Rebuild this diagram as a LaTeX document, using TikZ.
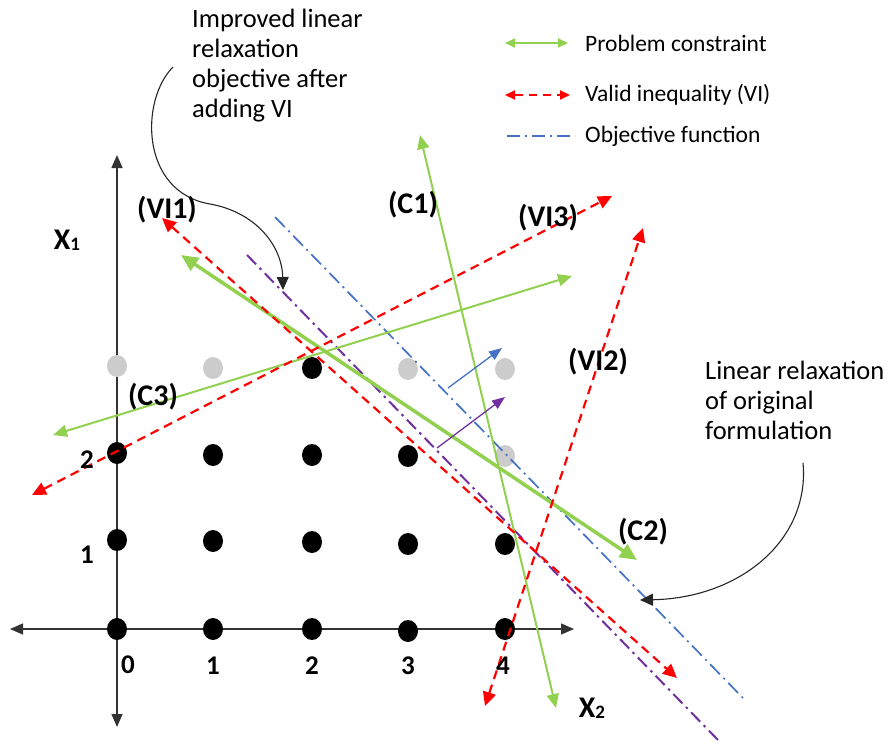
\documentclass[tikz,border=0pt]{standalone}
\usepackage{fontspec}
\setmainfont{Carlito}
\usetikzlibrary{arrows.meta,shapes.geometric}
\definecolor{cgreen}{RGB}{146,208,80}
\definecolor{cred}{RGB}{255,0,0}
\definecolor{cblue}{RGB}{68,114,196}
\definecolor{cpurple}{RGB}{112,48,160}
\definecolor{cgray}{RGB}{204,204,204}
\tikzset{
  axtip/.tip={Triangle[length=13pt,width=11pt]},
  gtip/.tip={Triangle[length=14pt,width=12pt]},
  gbtip/.tip={Triangle[length=17pt,width=15pt]},
  rtip/.tip={Triangle[length=14pt,width=13pt]},
  stip/.tip={Triangle[length=13pt,width=10pt]},
  ctip/.tip={Triangle[length=13pt,width=12pt]},
  ltip/.tip={Triangle[length=10pt,width=9pt]},
  axisline/.style={draw=black!80, line width=1.4pt, axtip-axtip},
  bdot/.style={ellipse, fill=black, minimum width=20pt, minimum height=22pt, inner sep=0pt},
  gdot/.style={ellipse, fill=cgray, minimum width=20pt, minimum height=22pt, inner sep=0pt},
  gline/.style={draw=cgreen, line width=2pt, gtip-gtip},
  gthick/.style={draw=cgreen, line width=3.5pt, gbtip-gbtip},
  rline/.style={draw=cred, line width=2.2pt, dash pattern=on 9pt off 6pt, rtip-rtip},
  bline/.style={draw=cblue, line width=1.7pt, dash pattern=on 14pt off 5pt on 2pt off 5pt},
  pline/.style={draw=cpurple, line width=2pt, dash pattern=on 13pt off 5pt on 2.5pt off 5pt},
  barrow/.style={draw=cblue, line width=1.3pt, -stip},
  parrow/.style={draw=cpurple, line width=1.3pt, -stip},
  callout/.style={draw=black!85, line width=1.1pt, -ctip},
  lab/.style={font=\fontsize{30}{32}\selectfont\bfseries, inner sep=0pt},
  num/.style={font=\fontsize{27}{29}\selectfont\bfseries, inner sep=0pt},
  ann/.style={font=\fontsize{26.5}{30}\selectfont, align=left, inner sep=0pt, anchor=north west},
  leg/.style={font=\fontsize{23.5}{26}\selectfont, anchor=west, inner sep=0pt},
}
\begin{document}
\begin{tikzpicture}[x=1pt,y=-1pt]
\useasboundingbox (0,0) rectangle (890,744);
% coordinates
\coordinate (xl) at (10,629);
\coordinate (xr) at (574,629);
\coordinate (yt) at (117,155);
\coordinate (yb) at (117,727);
\coordinate (c1a) at (420,135);
\coordinate (c1b) at (556,708);
\coordinate (c2a) at (181,255);
\coordinate (c2b) at (637,560);
\coordinate (c3a) at (53,435);
\coordinate (c3b) at (572,276);
\coordinate (v1a) at (162,218);
\coordinate (v1b) at (677,678);
\coordinate (v2a) at (485,706);
\coordinate (v2b) at (643,228);
\coordinate (v3a) at (32,495);
\coordinate (v3b) at (612,196);
\coordinate (oa) at (275,217);
\coordinate (ob) at (743,698);
\coordinate (pa) at (247,255);
\coordinate (pb) at (718,740);
\coordinate (ba) at (448,388);
\coordinate (bb) at (502,348);
\coordinate (qa) at (437,448);
\coordinate (qb) at (505,397);
\coordinate (a1s) at (173,67);
\coordinate (a1e) at (283,290);
\coordinate (a2s) at (803,463);
\coordinate (a2e) at (640,600);
\coordinate (l1a) at (505,43);
\coordinate (l1b) at (568,43);
\coordinate (l2a) at (505,95);
\coordinate (l2b) at (570,95);
\coordinate (l3a) at (507,136);
\coordinate (l3b) at (575,136);
% axes
\draw[axisline] (xl) -- (xr);
\draw[axisline] (yb) -- (yt);
% dots
\node[bdot] (p00) at (117,629) {};
\node[bdot] (p10) at (213,629) {};
\node[bdot] (p20) at (312,629) {};
\node[bdot] (p30) at (408,631) {};
\node[bdot] (p40) at (505,629) {};
\node[bdot] (p01) at (117,540) {};
\node[bdot] (p11) at (213,541) {};
\node[bdot] (p21) at (312,542) {};
\node[bdot] (p31) at (408,544) {};
\node[bdot] (p41) at (505,544) {};
\node[bdot] (p02) at (117,453) {};
\node[bdot] (p12) at (213,455) {};
\node[bdot] (p22) at (312,455) {};
\node[bdot] (p32) at (408,456) {};
\node[gdot] (p42) at (505,456) {};
\node[gdot] (p03) at (117,366) {};
\node[gdot] (p13) at (213,368) {};
\node[bdot] (p23) at (312,368) {};
\node[gdot] (p33) at (408,369) {};
\node[gdot] (p43) at (505,369) {};
% objective lines
\draw[bline] (oa) -- (ob);
\draw[pline] (pa) -- (pb);
% constraints
\draw[gline] (c1a) -- (c1b);
\draw[gthick] (c2a) -- (c2b);
\draw[gline] (c3a) -- (c3b);
% valid inequalities
\draw[rline] (v1a) -- (v1b);
\draw[rline] (v2a) -- (v2b);
\draw[rline] (v3a) -- (v3b);
% direction arrows
\draw[barrow] (ba) -- (bb);
\draw[parrow] (qa) -- (qb);
% callouts
\draw[callout] (a1s) .. controls (140,100) and (140,192) .. (210,204) .. controls (255,212) and (282,245) .. (a1e);
\draw[callout] (a2s) .. controls (810,540) and (740,598) .. (a2e);
% labels
\node[lab] (lvi1) at (167,210) {(VI1)};
\node[lab] (lc1) at (413,205) {(C1)};
\node[lab] (lvi3) at (548,218) {(VI3)};
\node[lab] (lvi2) at (598,362) {(VI2)};
\node[lab] (lc3) at (153,397) {(C3)};
\node[lab] (lc2) at (643,532) {(C2)};
\node[num] (n0) at (128,665) {0};
\node[num] (n1) at (213,666) {1};
\node[num] (n2) at (312,666) {2};
\node[num] (n3) at (408,666) {3};
\node[num] (n4) at (503,666) {4};
\node[num] (m2) at (87,460) {2};
\node[num] (m1) at (87,555) {1};
\node[lab] (lx1) at (67,240) {X\raisebox{-1pt}{\fontsize{19}{20}\selectfont 1}};
\node[lab] (lx2) at (592,708) {X\raisebox{-1pt}{\fontsize{19}{20}\selectfont 2}};
% annotations
\node[ann] (t1) at (192,9) {Improved linear\\relaxation\\objective after\\adding VI};
\node[ann] (t2) at (705,361) {Linear relaxation\\of original\\formulation};
% legend
\draw[draw=cgreen, line width=2pt, ltip-ltip] (l1a) -- (l1b);
\draw[draw=cred, line width=2pt, dash pattern=on 8pt off 6pt, ltip-ltip] (l2a) -- (l2b);
\draw[draw=cblue, line width=1.5pt, dash pattern=on 13pt off 5pt on 2pt off 5pt] (l3a) -- (l3b);
\node[leg] (g1) at (585,43) {Problem constraint};
\node[leg] (g2) at (585,95) {Valid inequality (VI)};
\node[leg] (g3) at (585,136) {Objective function};
\end{tikzpicture}
\end{document}
